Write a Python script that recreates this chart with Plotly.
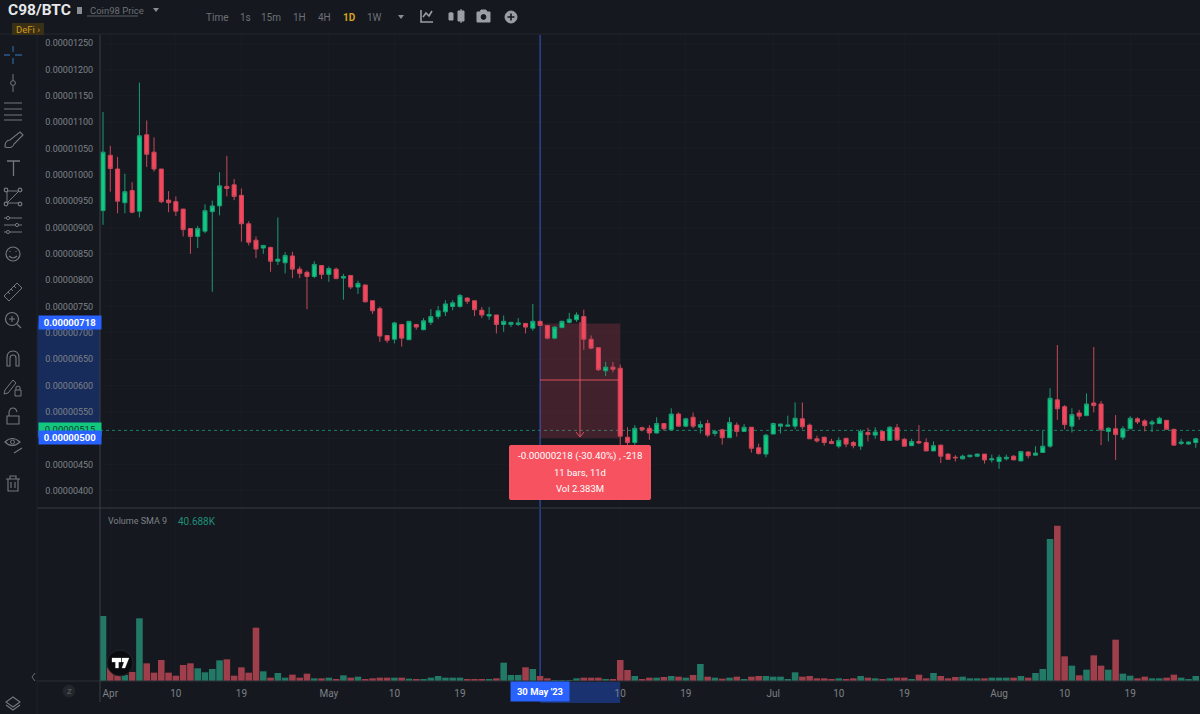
import pandas as pd
import plotly.graph_objects as go

# prices are in units of 0.00000001 BTC
dates = pd.date_range('2023-03-31', periods=151)

opens = [932,1037,1011,947,970,931,1076,1043,1011,952,
         949,935,898,883,893,930,941,978,981,961,
         907,876,861,862,836,833,846,821,815,807,
         828,811,821,804,809,787,791,761,746,695,
         688,716,687,716,706,720,731,740,750,750,
         766,761,743,732,734,716,716,716,718,709,
         722,714,690,710,720,725,731,688,672,628,
         635,633,502,492,520,519,510,528,516,546,
         523,540,521,528,509,516,501,525,513,521,
         482,470,508,523,523,523,537,525,499,502,
         494,485,500,492,485,511,506,513,496,520,
         498,486,494,492,476,487,470,464,461,465,
         466,470,459,456,461,466,457,474,468,473,
         485,573,560,523,548,543,567,565,513,518,
         502,518,537,533,527,528,534,517,490,489,492]
highs = [1119,1055,1034,1002,986,1175,1103,1071,1011,969,
         959,935,898,903,944,951,1005,1036,992,974,
         912,883,867,864,919,853,854,826,818,836,
         828,826,824,812,809,799,791,761,750,695,
         721,716,722,717,728,745,751,762,762,774,
         768,761,749,749,734,733,721,728,719,755,
         723,715,713,723,738,739,744,695,672,645,
         645,640,521,525,522,525,540,528,557,549,
         539,549,533,535,516,518,540,530,527,521,
         490,508,530,528,543,568,568,528,505,503,
         499,502,500,495,517,520,521,513,523,527,
         501,499,525,500,494,488,471,468,469,468,
         471,470,469,469,469,468,476,475,485,514,
         595,677,563,557,554,585,673,571,521,544,
         523,542,540,536,535,541,534,518,499,494,501]
lows = [905,968,927,927,927,919,1015,1006,946,929,
        922,883,850,861,889,778,923,959,952,873,
        866,842,850,816,829,813,804,804,745,804,
        802,797,802,763,783,774,758,736,683,681,
        680,674,687,706,705,715,726,732,743,748,
        755,732,728,725,699,702,711,713,699,704,
        713,688,688,709,718,721,668,669,628,618,
        625,487,487,487,513,497,509,514,514,522,
        521,519,509,502,504,488,501,503,513,473,
        469,464,508,509,523,517,517,499,492,486,
        489,481,483,481,478,494,499,496,495,495,
        485,485,489,476,476,453,460,456,460,464,
        464,452,454,442,458,459,457,462,468,473,
        482,535,517,511,535,542,549,487,494,459,
        497,517,527,513,512,527,517,487,487,488,482]
closes = [1043,1012,950,968,929,1074,1039,1011,949,947,
          931,896,883,898,932,941,979,974,959,907,
          872,859,866,836,840,847,821,813,807,830,
          811,822,803,807,787,794,759,742,694,686,
          719,690,722,711,723,731,742,755,757,771,
          760,744,734,735,716,722,720,719,711,722,
          714,690,711,722,726,734,688,671,630,635,
          631,504,492,519,516,510,528,518,546,523,
          537,523,526,506,513,501,530,513,521,481,
          471,506,528,527,525,538,522,499,495,492,
          490,496,489,486,513,507,512,496,521,497,
          485,494,491,476,486,466,460,463,466,468,
          470,459,461,464,464,459,475,467,472,485,
          576,556,526,545,542,565,562,516,519,507,
          518,538,531,524,531,538,517,487,493,493,499]
# no scale on the volume pane, so these are relative bar sizes
volumes = [195,41,25,18,27,188,53,25,63,25,
           16,48,53,38,26,36,62,65,16,41,
           25,160,29,10,24,10,19,10,22,8,
           8,10,5,17,10,13,5,8,10,10,
           10,10,7,5,4,10,15,10,10,10,
           5,5,5,5,8,55,18,18,41,36,
           15,8,3,3,3,8,10,10,10,5,
           5,63,33,15,5,10,10,12,15,13,
           10,18,51,13,10,7,10,13,5,13,
           15,15,13,13,4,26,13,15,8,8,
           5,8,5,8,15,10,8,5,8,10,
           10,5,19,8,24,15,8,12,13,8,
           8,8,10,10,10,10,15,10,24,36,
           426,466,74,46,17,34,77,46,34,124,
           22,16,8,13,8,8,10,19,10,5,15]

tick_values = [400,450,500,550,600,650,700,750,800,850,900,950,1000,1050,1100,1150,1200,1250]
tick_labels = ['0.00000400','0.00000450','0.00000500','0.00000550','0.00000600','0.00000650',
               '0.00000700','0.00000750','0.00000800','0.00000850','0.00000900','0.00000950',
               '0.00001000','0.00001050','0.00001100','0.00001150','0.00001200','0.00001250']
date_ticks = ['2023-04-01','2023-04-10','2023-04-19','2023-05-01','2023-05-10','2023-05-19',
              '2023-06-10','2023-06-19','2023-07-01','2023-07-10','2023-07-19',
              '2023-08-01','2023-08-10','2023-08-19']
date_labels = ['Apr','10','19','May','10','19','10','19','Jul','10','19','Aug','10','19']

measure_start = '2023-05-30'
measure_end = '2023-06-10'
measure_high = 718
measure_low = 500
last_price = 515

BG = '#15181e'
GRID = 'rgba(255,255,255,0.015)'
TXT = '#7d8187'
ICON = '#74787e'
FONT = 'Roboto'
W, H = 1200, 714
x_range = ['2023-03-30 14:06', '2023-08-28 14:00']


def py(y):
    return 1 - y / H


def draw(d, color=ICON, w=1.2, fill=None):
    return dict(type='path', path=d, xref='x3', yref='y3', layer='above',
                line=dict(color=color, width=w), fillcolor=fill)


def ring(cx, cy, r, color=ICON, w=1.2, fill=None):
    return dict(type='circle', x0=cx - r, x1=cx + r, y0=cy - r, y1=cy + r, xref='x3', yref='y3',
                layer='above', line=dict(color=color, width=w), fillcolor=fill)


def text(x, y, s, color=TXT, size=10, anchor='center', **kw):
    return dict(x=x, y=y, xref='x3', yref='y3', text=s, showarrow=False, xanchor=anchor, yanchor='middle',
                font=dict(family=FONT, size=size, color=color), **kw)


fig = go.Figure()
fig.add_trace(go.Candlestick(
    x=dates, open=opens, high=highs, low=lows, close=closes, xaxis='x', yaxis='y',
    increasing=dict(line=dict(color='#1a9c74', width=1), fillcolor='#0ecb81'),
    decreasing=dict(line=dict(color='#c9485a', width=1), fillcolor='#f6465d'),
    whiskerwidth=0, showlegend=False, hoverinfo='skip'))
bar_colors = ['#227a66' if c >= o else '#a03f4c' for o, c in zip(opens, closes)]
fig.add_trace(go.Bar(x=dates, y=volumes, xaxis='x2', yaxis='y2', marker=dict(color=bar_colors, line=dict(width=0)),
                     showlegend=False, hoverinfo='skip'))

shapes = [
    # things under the candles
    dict(type='rect', x0=measure_start, x1=measure_end, y0=measure_low, y1=measure_high, xref='x', yref='y',
         layer='below', line=dict(width=0), fillcolor='rgba(246,70,93,0.2)'),
    dict(type='rect', x0=37 / W, x1=100 / W, y0=measure_low, y1=measure_high, xref='paper', yref='y',
         layer='below', line=dict(width=0), fillcolor='#182c5c'),
    dict(type='rect', x0=measure_start, x1=measure_end, y0=py(703), y1=py(682), xref='x', yref='paper',
         layer='below', line=dict(width=0), fillcolor='#1b3270'),
    dict(type='line', x0=100 / W, x1=1, y0=last_price, y1=last_price, xref='paper', yref='y', layer='below',
         line=dict(color='#1d7f66', width=1, dash='dot')),
    dict(type='line', x0=measure_start, x1=measure_start, y0=py(681), y1=py(35), xref='x', yref='paper',
         layer='below', line=dict(color='#2d50b4', width=1.2)),
    # pane borders
    draw('M0,34 L1200,34', '#24272d', 1),
    draw('M37,508 L1200,508', '#2c3037', 1.5),
    draw('M37,681 L1200,681', '#2c3037', 1),
    draw('M100,35 L100,702', '#3a3e45', 1),
    draw('M37,35 L37,714', '#1f2228', 1),
    # measure tool
    draw('M540,380 L620,380', '#d9525f', 1),
    draw('M580,322 L580,436', '#d9525f', 1),
    draw('M576,432 L580,437 L584,432', '#d9525f', 1),
    draw('M511,445 L649,445 Q651,445 651,447 L651,498 Q651,500 649,500 L511,500 Q509,500 509,498 L509,447 Q509,445 511,445 Z',
         '#f6525f', 0, '#f6525f'),
    # header
    draw('M12,23 L44,23 L44,35 L12,35 Z', '#3a3016', 0, '#3a3016'),
    draw('M77,7 L82,7 L82,14 L77,14 Z', '#8a8d92', 0, '#8a8d92'),
    draw('M153,8 L159,8 L156,12 Z', '#8a8d92', 0, '#8a8d92'),
    draw('M398,15 L404,15 L401,19 Z', '#8a8d92', 0, '#8a8d92'),
    draw('M87,16 L138,16', '#6d7178', 0.8),
    draw('M421,10 L421,22 L433,22 M423,17 L426,13 L429,16 L432,11', '#9a9ea5', 1.6),
    draw('M451,12 L451,20 M451,16 L451,16 M461,9 L461,23', '#9a9ea5', 1.2),
    draw('M449,13 L453,13 L453,20 L449,20 Z M458,11 L464,11 L464,21 L458,21 Z', '#9a9ea5', 1, '#9a9ea5'),
    draw('M477,12 L480,12 L481,10 L486,10 L487,12 L490,12 L490,22 L477,22 Z', '#9a9ea5', 1, '#9a9ea5'),
    ring(483.5, 17, 2.4, BG, 1, BG),
    ring(511, 17, 6, '#9a9ea5', 1, '#9a9ea5'),
    draw('M507.5,17 L514.5,17 M511,13.5 L511,20.5', BG, 1.6),
    # left toolbar
    draw('M4,55 L10,55 M15,55 L22,55 M13,46 L13,52 M13,58 L13,64', '#2b5a8c', 1.4),
    draw('M13,74 L13,80 M13,86 L13,92', ICON, 1),
    ring(13, 83, 2.4, ICON, 1),
    draw('M4,103 L22,103 M4,109 L22,109 M4,115 L22,115 M4,120 L22,120', ICON, 1),
    draw('M5,147 Q5,140 10,140 L20,132 L23,135 L14,144 Q13,149 5,147 Z', ICON, 1.1),
    draw('M7,161 L20,161 M13.5,161 L13.5,176', ICON, 1.3),
    draw('M7,191 L19,191 L7,203 L19,203 M7,191 L7,203', ICON, 1),
    ring(6, 190, 1.8, ICON), ring(20, 190, 1.8, ICON), ring(6, 204, 1.8, ICON), ring(20, 204, 1.8, ICON),
    draw('M4,218 L22,218 M4,225 L22,225 M4,232 L22,232', ICON, 1),
    ring(8, 218, 1.6, ICON, 1, BG), ring(17, 225, 1.6, ICON, 1, BG), ring(8, 232, 1.6, ICON, 1, BG),
    ring(13, 254, 7, ICON),
    draw('M9,256 Q13,260 17,256 M10,251 L10,252 M16,251 L16,252', ICON, 1.1),
    draw('M4,296 L17,283 L22,288 L9,301 Z M8,292 L10,294 M11,289 L13,291 M14,286 L16,288', ICON, 1),
    ring(12, 319, 6.5, ICON),
    draw('M17,324 L21,328 M9,319 L15,319 M12,316 L12,322', ICON, 1.1),
    draw('M7,366 L7,358 Q7,351 13,351 Q19,351 19,358 L19,366 L16,366 L16,358 Q16,355 13,355 Q10,355 10,358 L10,366 Z',
         ICON, 1.1),
    draw('M5,390 L13,380 L16,383 L8,393 L4,394 Z', ICON, 1),
    draw('M15,390 L21,390 L21,396 L15,396 Z M16,390 L16,387 Q18,385 20,387 L20,390', ICON, 1),
    draw('M7,416 L19,416 L19,424 L7,424 Z M9,416 L9,412 Q10,408 13,408 Q16,408 17,412', ICON, 1.1),
    draw('M5,442 Q12,435 20,442 Q12,449 5,442 Z M14,453 L22,448', ICON, 1.1),
    ring(12.5, 442, 2, ICON, 1),
    draw('M6,479 L20,479 M10,479 L10,476 L16,476 L16,479 M8,479 L8,491 L18,491 L18,479 M11,482 L11,488 M15,482 L15,488',
         ICON, 1.1),
    # bottom bar
    draw('M35,673 L32,677 L35,681', ICON, 0.9),
    ring(69, 691, 6, '#23262c', 1, '#23262c'),
    draw('M13,697 L20,702 L13,707 L6,702 Z M6,705 L13,710 L20,705', ICON, 1.1),
    ring(120, 663, 13, '#23262c', 1, '#0b0c0f'),
    draw('M112,658 L121,658 L121,662 L118.5,662 L118.5,668 L115.5,668 L115.5,662 L112,662 Z', 'white', 0.3, 'white'),
    draw('M122,658 L129,658 L125,668 L122,668 L124,662 L122,662 Z', 'white', 0.3, 'white'),
]

annotations = [
    text(6, 10, '<b>C98/BTC</b>', '#e6e8ea', 15.5, 'left'),
    text(88, 10, 'Coin98 Price', '#6d7178', 9.5, 'left'),
    text(28, 29, 'DeFi ›', '#d39b1b', 9.5),
    text(217, 17, 'Time', '#6d7178'), text(245, 17, '1s', '#6d7178'), text(271, 17, '15m', '#6d7178'),
    text(299, 17, '1H', '#6d7178'), text(324, 17, '4H', '#6d7178'), text(349, 17, '<b>1D</b>', '#d9a21b'),
    text(374, 17, '1W', '#6d7178'),
    text(106, 521, 'Volume SMA 9', '#7d8187', 9, 'left'),
    text(176, 521, '40.688K', '#1f8f78', 10, 'left'),
    text(69, 691, 'Z', '#63666c', 8),
    text(70, 322.5, '<b>0.00000718</b>', 'white', 9.5, bgcolor='#2962ff', width=62, height=13, borderpad=0),
    text(70, 429.5, '0.00000515', '#0f3d30', 9.5, bgcolor='#12c87f', width=62, height=13, borderpad=0),
    text(70, 437.5, '<b>0.00000500</b>', 'white', 9.5, bgcolor='#2962ff', width=62, height=13, borderpad=0),
    text(540, 691.5, "<b>30 May '23</b>", 'white', 9.5, bgcolor='#2962ff', width=58, height=19, borderpad=0),
    text(580, 456, '-0.00000218 (-30.40%) , -218', 'white', 9.8),
    text(580, 472, '11 bars, 11d', 'white', 9.5),
    text(580, 488, 'Vol 2.383M', 'white', 9.5),
]

fig.update_layout(
    width=W, height=H, margin=dict(l=0, r=0, t=0, b=0),
    paper_bgcolor=BG, plot_bgcolor='rgba(0,0,0,0)', showlegend=False, bargap=0.1, boxgap=0.2,
    font=dict(family=FONT, color=TXT, size=10),
    xaxis=dict(domain=[100 / W, 1], range=x_range, type='date', anchor='y', rangeslider=dict(visible=False),
               tickvals=date_ticks, showticklabels=False, ticks='', gridcolor=GRID, zeroline=False, showline=False),
    yaxis=dict(domain=[py(507), py(35)], range=[369.6, 1265.3], anchor='x', tickmode='array', tickvals=tick_values,
               ticktext=tick_labels, ticks='outside', ticklen=4, tickcolor='rgba(0,0,0,0)', gridcolor=GRID,
               zeroline=False, showline=False, tickfont=dict(family=FONT, size=9, color=TXT)),
    xaxis2=dict(domain=[100 / W, 1], range=x_range, type='date', anchor='y2', tickmode='array', tickvals=date_ticks,
                ticktext=date_labels, ticks='outside', ticklen=3, tickcolor='rgba(0,0,0,0)', gridcolor=GRID,
                zeroline=False, showline=False, tickfont=dict(family=FONT, size=10, color=TXT)),
    yaxis2=dict(domain=[py(681), py(508)], range=[0, 519], anchor='x2', showticklabels=False, ticks='',
                showgrid=False, zeroline=False, showline=False),
    # pixel-sized helper axes for the tool chrome around the chart
    xaxis3=dict(domain=[0, 1], range=[0, W], anchor='y3', visible=False, fixedrange=True),
    yaxis3=dict(domain=[0, 1], range=[H, 0], anchor='x3', visible=False, fixedrange=True),
    shapes=shapes, annotations=annotations,
)

# the browser's default page margin would shift the chart by 8px
fig.write_html("out.html", config=dict(displayModeBar=False),
               post_script="document.body.style.margin='0';document.body.style.overflow='hidden';")
